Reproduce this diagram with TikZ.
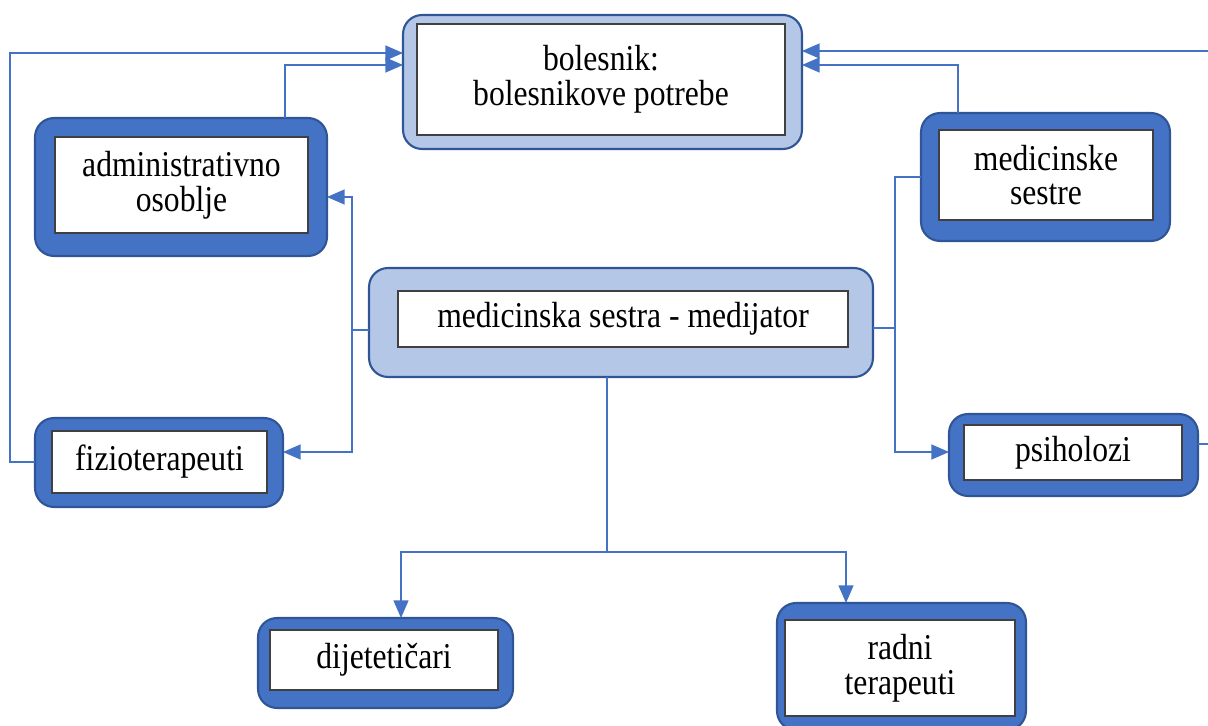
\documentclass[tikz,border=0pt]{standalone}
\usepackage{graphicx}
\usepackage{fontspec}
\setmainfont{Liberation Serif}
\usetikzlibrary{arrows.meta}
\definecolor{boxblue}{HTML}{4472C4}
\definecolor{edgeblue}{HTML}{2F5597}
\definecolor{lightblue}{HTML}{B4C7E7}
\definecolor{lineblue}{HTML}{4472C4}
\newcommand{\vstretch}[1]{\scalebox{1}[1.15]{#1}}

\begin{document}
\begin{tikzpicture}[x=0.02cm,y=-0.02cm,
dark/.style={
	rectangle,rounded corners=3.8mm,inner sep=0pt,outer sep=0pt,
	fill=boxblue,draw=edgeblue,line width=1.2pt},
light/.style={dark,fill=lightblue},
inner/.style={
	rectangle,fill=white,draw=black!75,line width=0.8pt,
	inner sep=0pt,outer sep=0pt,align=center,
	font=\fontsize{18}{19.8}\selectfont},
conn/.style={draw=lineblue,line width=0.7pt},
arr/.style={conn,-{Triangle[length=10pt,width=8.5pt]}},
]
\useasboundingbox (0,0) rectangle (1208,726);
\clip (0,0) rectangle (1208,726);
% boxes
\node[light,minimum width=7.98cm,minimum height=2.68cm] (bol) at (602.5,82) {};
\node[inner,minimum width=7.36cm,minimum height=2.22cm] (bolt) at (601,79.5) {\vstretch{bolesnik:}\\\vstretch{bolesnikove potrebe}};
\node[dark,minimum width=5.84cm,minimum height=2.76cm] (adm) at (181,187) {};
\node[inner,minimum width=5.06cm,minimum height=1.92cm] (admt) at (181.5,185) {\vstretch{administrativno}\\\vstretch{osoblje}};
\node[dark,minimum width=4.98cm,minimum height=2.56cm] (ses) at (1045.5,177) {};
\node[inner,minimum width=4.28cm,minimum height=1.80cm] (sest) at (1046,175) {\vstretch{medicinske}\\\vstretch{sestre}};
\node[light,minimum width=10.08cm,minimum height=2.18cm] (med) at (621,322.5) {};
\node[inner,minimum width=9.00cm,minimum height=1.12cm] (medt) at (623,319) {\vstretch{medicinska sestra - medijator}};
\node[dark,minimum width=4.96cm,minimum height=1.78cm] (fiz) at (159,462.5) {};
\node[inner,minimum width=4.30cm,minimum height=1.24cm] (fizt) at (159.5,462) {\vstretch{fizioterapeuti}};
\node[dark,minimum width=4.98cm,minimum height=1.64cm] (psi) at (1073.5,455) {};
\node[inner,minimum width=4.36cm,minimum height=1.10cm] (psit) at (1073,452.5) {\vstretch{psiholozi}};
\node[dark,minimum width=5.10cm,minimum height=1.80cm] (dij) at (385.5,663) {};
\node[inner,minimum width=4.56cm,minimum height=1.20cm] (dijt) at (384,660) {\vstretch{dijetetičari}};
\node[dark,minimum width=4.98cm,minimum height=2.54cm] (rad) at (901.5,666.5) {};
\node[inner,minimum width=4.60cm,minimum height=1.92cm] (radt) at (900,668) {\vstretch{radni}\\\vstretch{terapeuti}};
% branch points
\coordinate (lbus) at (352,330);
\coordinate (rbus) at (895,328);
\coordinate (dbus) at (607,552);
% connectors to bolesnik
\draw[arr] (fiz.west |- 0,462) -- (10,462) |- (bol.west |- 0,53);
\draw[arr] (adm.north -| 285,0) |- (bol.west |- 0,65);
\draw[arr] (psi.east |- 0,444) -- (1240,444) |- (bol.east |- 0,51);
\draw[arr] (ses.north -| 958,0) |- (bol.east |- 0,65);
% connectors from the mediator
\draw[conn] (med.west |- lbus) -- (lbus);
\draw[arr] (lbus) |- (adm.east |- 0,197);
\draw[arr] (lbus) |- (fiz.east |- 0,452);
\draw[conn] (med.east |- rbus) -- (rbus) |- (ses.west |- 0,177);
\draw[arr] (rbus) |- (psi.west |- 0,452);
\draw[conn] (med.south -| dbus) -- (dbus);
\draw[arr] (dbus) -| (dij.north -| 401,0);
\draw[arr] (dbus) -| (rad.north -| 846,0);
\end{tikzpicture}
\end{document}
